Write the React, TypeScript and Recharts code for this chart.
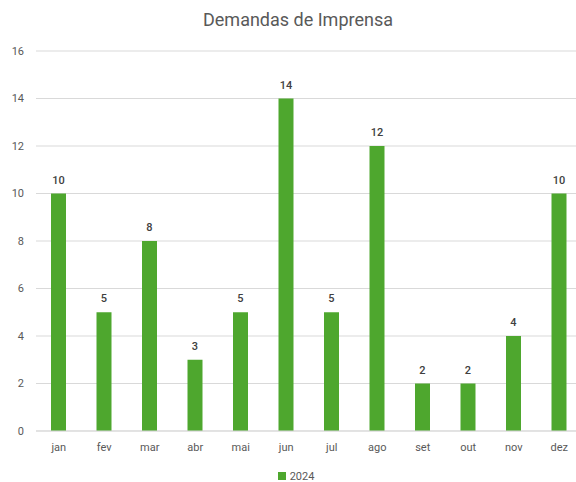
import { BarChart, Bar, XAxis, YAxis, CartesianGrid, Legend, LabelList } from "recharts";

const months = ["jan", "fev", "mar", "abr", "mai", "jun", "jul", "ago", "set", "out", "nov", "dez"];
const demandas2024 = [10, 5, 8, 3, 5, 14, 5, 12, 2, 2, 4, 10];
const yTicks = [0, 2, 4, 6, 8, 10, 12, 14, 16];

const data = months.map((m, i) => ({ month: m, v2024: demandas2024[i] }));

const font = "Roboto, 'Liberation Sans', sans-serif";

export default function App() {
    return (
        <div style={{ position: "absolute", left: 0, top: 0, width: 576, height: 482, background: "#fff", fontFamily: font, overflow: "hidden" }}>
            <div style={{ position: "absolute", top: 9, left: 0, width: 596, textAlign: "center", fontSize: 18, color: "#595959" }}>
                Demandas de Imprensa
            </div>
            <BarChart width={576} height={482} data={data} margin={{ top: 51, right: -6, left: 0, bottom: 9 }} barCategoryGap={0}>
                <CartesianGrid vertical={false} stroke="#d9d9d9" />
                <XAxis
                    dataKey="month"
                    axisLine={{ stroke: "#d9d9d9" }}
                    tickLine={false}
                    tickSize={0}
                    tickMargin={12}
                    height={30}
                    tick={{ fill: "#595959", fontSize: 11, fontFamily: font }}
                    interval={0}
                />
                <YAxis
                    domain={[0, 16]}
                    ticks={yTicks}
                    width={36}
                    axisLine={false}
                    tickLine={false}
                    tickSize={0}
                    tickMargin={12}
                    tick={{ fill: "#595959", fontSize: 11, fontFamily: font }}
                />
                <Legend
                    verticalAlign="bottom"
                    height={12}
                    iconType="square"
                    iconSize={8}
                    wrapperStyle={{ bottom: 1, left: 10, lineHeight: "12px" }}
                    formatter={(v) => <span style={{ color: "#595959", fontSize: 11 }}>{v}</span>}
                />
                <Bar dataKey="v2024" name="2024" fill="#4ea72e" barSize={15} isAnimationActive={false}>
                    <LabelList dataKey="v2024" position="top" offset={10} style={{ fill: "#404040", fontSize: 11, fontWeight: 500, fontFamily: font }} />
                </Bar>
            </BarChart>
        </div>
    );
}
